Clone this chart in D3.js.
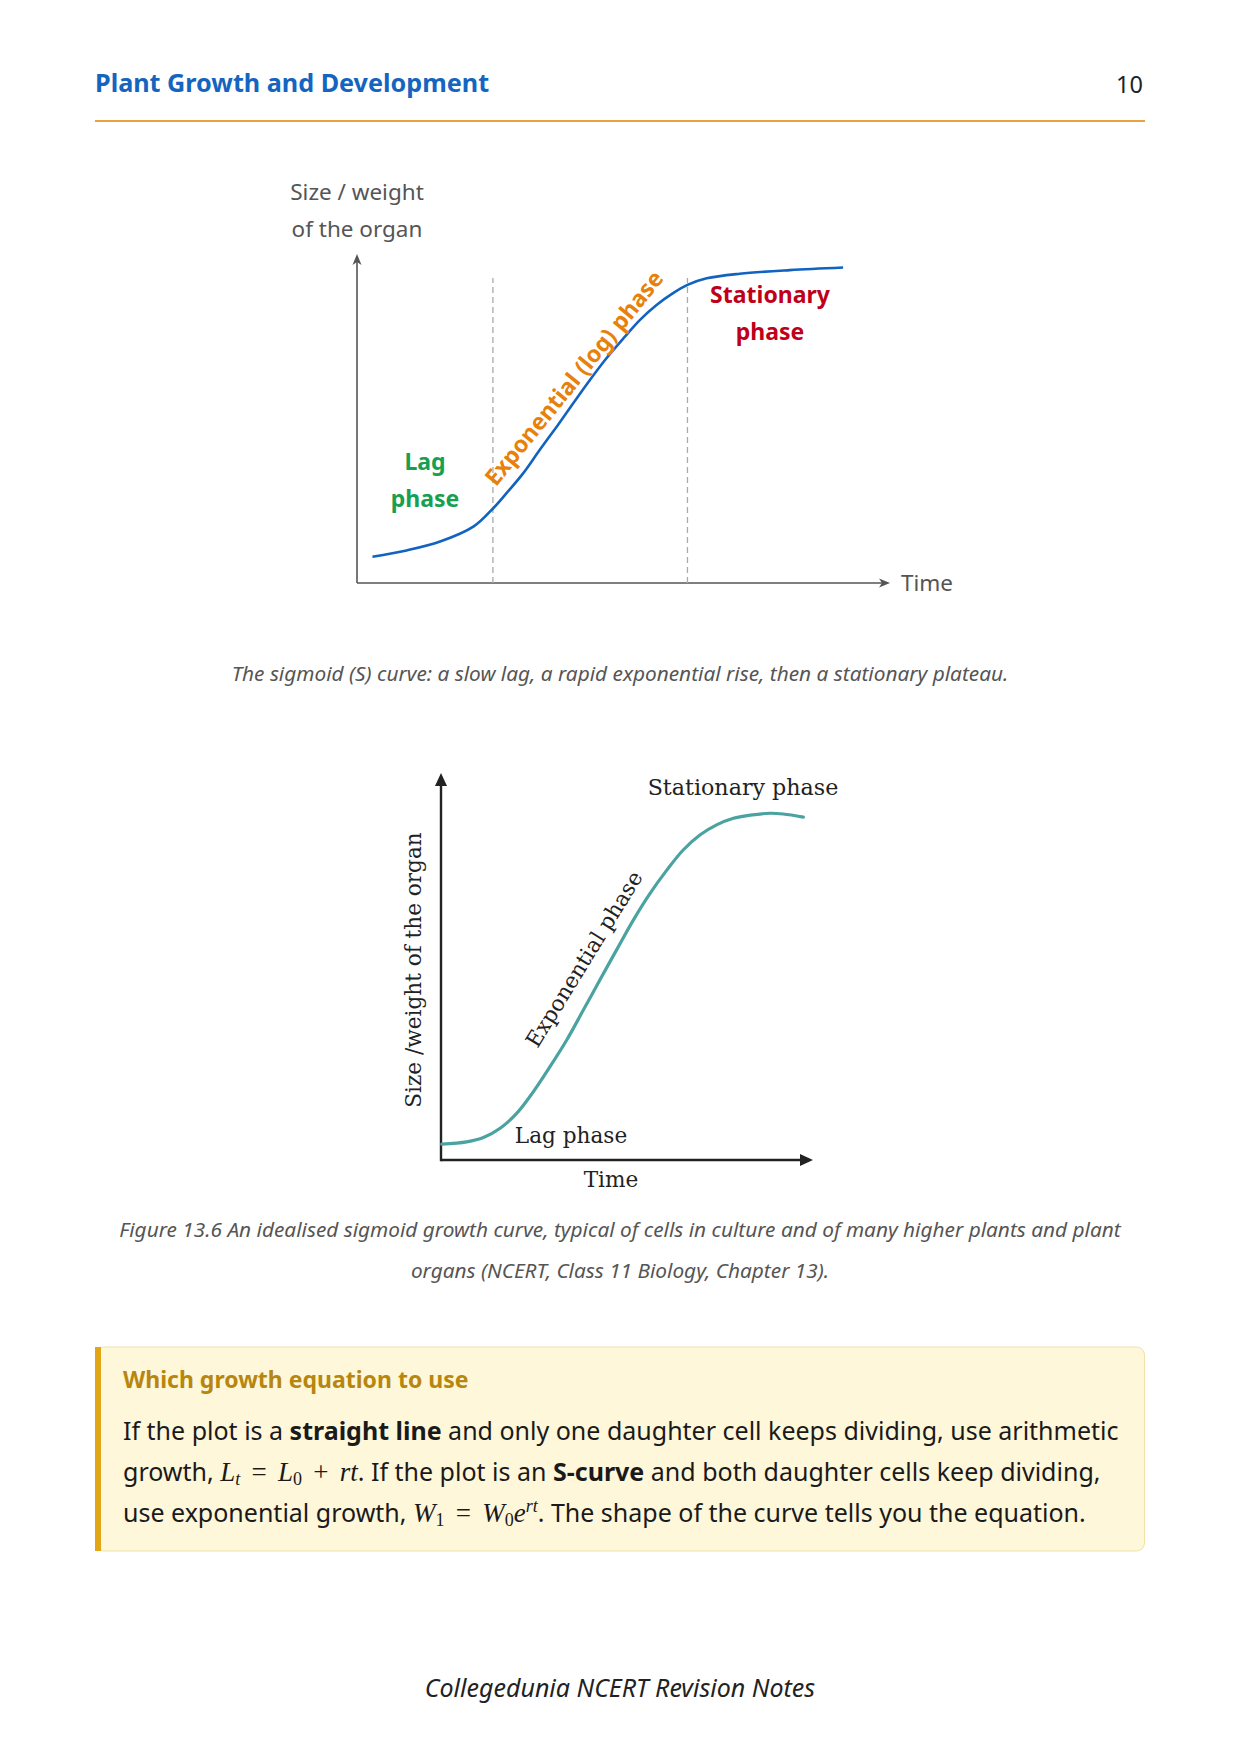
<!DOCTYPE html>
<html>
<head>
<meta charset="utf-8">
<script src="https://cdn.jsdelivr.net/npm/d3@7/dist/d3.min.js"></script>
<style>
  html, body { margin: 0; padding: 0; background: #fff; }
  svg { display: block; }
</style>
</head>
<body>
<svg id="page" width="1240" height="1754"></svg>
<script>
// ---------------- DATA ----------------
// Chart 1 (modern sigmoid): time (0-100) vs size (0-100)
const curve1Time = [2.9, 9.3, 15.6, 21.9, 25.6, 28.1, 31.2, 34.3, 37.5, 40.6, 43.7, 46.8, 50.0, 53.1, 56.2, 59.3, 62.0, 65.6, 71.8, 81.2, 91.2];
const curve1Size = [8.0, 9.9, 12.6, 17.2, 22.8, 27.4, 33.4, 40.5, 47.6, 54.7, 61.7, 68.3, 74.4, 80.0, 84.5, 88.1, 90.6, 92.6, 94.0, 95.1, 95.9];
const phaseBoundaries1 = [25.5, 62.0];
const phaseLabels1 = ["Lag", "phase", "Exponential (log) phase", "Stationary", "phase"];
const axisLabels1 = ["Size / weight", "of the organ", "Time"];

// Chart 2 (NCERT figure 13.6): time (0-100) vs size (0-100)
const curve2Time = [0.2, 6.9, 11.4, 15.9, 20.4, 24.8, 29.3, 33.8, 38.3, 42.7, 47.2, 51.7, 56.2, 60.7, 65.1, 69.6, 74.1, 78.6, 83.1, 88.4, 92.0, 97.4];
const curve2Size = [4.1, 4.7, 5.8, 8.2, 12.1, 17.6, 24.1, 31.0, 38.8, 46.5, 54.3, 62.0, 68.9, 74.9, 80.1, 84.0, 86.6, 88.3, 89.1, 89.6, 89.4, 88.6];
const phaseLabels2 = ["Lag phase", "Exponential phase", "Stationary phase"];
const axisLabels2 = ["Size /weight of the organ", "Time"];

// Page text
const headerTitle = "Plant Growth and Development";
const pageNumber = "10";
const caption1 = "The sigmoid (S) curve: a slow lag, a rapid exponential rise, then a stationary plateau.";
const caption2 = ["Figure 13.6 An idealised sigmoid growth curve, typical of cells in culture and of many higher plants and plant",
                  "organs (NCERT, Class 11 Biology, Chapter 13)."];
const boxTitle = "Which growth equation to use";
const footer = "Collegedunia NCERT Revision Notes";

// ---------------- DRAW ----------------
const svg = d3.select("#page");
const SANS = "'Noto Sans', 'Open Sans', sans-serif";
const SERIF = "'DejaVu Serif', serif";
const MATH = "'Liberation Serif', 'DejaVu Serif', serif";

// Header
svg.append("text").attr("x", 95).attr("y", 92)
  .attr("font-family", SANS).attr("font-weight", 700).attr("font-size", 25.2)
  .attr("fill", "#1565c0").text(headerTitle);
svg.append("text").attr("x", 1143).attr("y", 92.5).attr("text-anchor", "end")
  .attr("font-family", SANS).attr("font-size", 23.5).attr("fill", "#222").text(pageNumber);
svg.append("line").attr("x1", 95).attr("x2", 1145).attr("y1", 121).attr("y2", 121)
  .attr("stroke", "#e9a33c").attr("stroke-width", 2);

// ---------- Chart 1 ----------
const x1 = d3.scaleLinear().domain([0, 100]).range([357, 890]);
const y1 = d3.scaleLinear().domain([0, 100]).range([583, 254]);
const g1 = svg.append("g");
const axisCol1 = "#555";

g1.append("line").attr("x1", x1(0)).attr("x2", x1(100) - 4).attr("y1", y1(0)).attr("y2", y1(0))
  .attr("stroke", axisCol1).attr("stroke-width", 1.6);
g1.append("line").attr("x1", x1(0)).attr("x2", x1(0)).attr("y1", y1(0)).attr("y2", y1(100) + 4)
  .attr("stroke", axisCol1).attr("stroke-width", 1.6);
g1.append("path")
  .attr("d", `M${x1(100)},${y1(0)} L${x1(100) - 11},${y1(0) - 4.5} L${x1(100) - 8},${y1(0)} L${x1(100) - 11},${y1(0) + 4.5} Z`)
  .attr("fill", axisCol1);
g1.append("path")
  .attr("d", `M${x1(0)},${y1(100)} L${x1(0) - 4.5},${y1(100) + 11} L${x1(0)},${y1(100) + 8} L${x1(0) + 4.5},${y1(100) + 11} Z`)
  .attr("fill", axisCol1);

g1.selectAll("line.bound").data(phaseBoundaries1).join("line")
  .attr("class", "bound")
  .attr("x1", d => x1(d)).attr("x2", d => x1(d))
  .attr("y1", y1(0)).attr("y2", y1(92.7))
  .attr("stroke", "#aaa").attr("stroke-width", 1.3).attr("stroke-dasharray", "6,4");

const pts1 = curve1Time.map((t, i) => [t, curve1Size[i]]);
g1.append("path").datum(pts1)
  .attr("d", d3.line().x(d => x1(d[0])).y(d => y1(d[1])).curve(d3.curveCatmullRom))
  .attr("fill", "none").attr("stroke", "#1262c0").attr("stroke-width", 2.6);

const sans22 = sel => sel.attr("font-family", SANS).attr("font-size", 22.5).attr("fill", "#555");
g1.append("text").attr("x", x1(0)).attr("y", 200).attr("text-anchor", "middle").call(sans22).text(axisLabels1[0]);
g1.append("text").attr("x", x1(0)).attr("y", 237).attr("text-anchor", "middle").call(sans22).text(axisLabels1[1]);
g1.append("text").attr("x", x1(100) + 11).attr("y", 591).attr("text-anchor", "start").call(sans22).text(axisLabels1[2]);

const bold23 = sel => sel.attr("font-family", SANS).attr("font-weight", 700).attr("font-size", 23);
g1.append("text").attr("x", 425).attr("y", 470).attr("text-anchor", "middle").call(bold23)
  .attr("fill", "#17a050").text(phaseLabels1[0]);
g1.append("text").attr("x", 425).attr("y", 507).attr("text-anchor", "middle").call(bold23)
  .attr("fill", "#17a050").text(phaseLabels1[1]);
g1.append("text").attr("transform", "translate(574,378) rotate(-51)").attr("dy", "0.35em")
  .attr("text-anchor", "middle").call(bold23).attr("fill", "#e8800c").text(phaseLabels1[2]);
g1.append("text").attr("x", 770).attr("y", 303).attr("text-anchor", "middle").call(bold23)
  .attr("fill", "#c0001a").text(phaseLabels1[3]);
g1.append("text").attr("x", 770).attr("y", 340).attr("text-anchor", "middle").call(bold23)
  .attr("fill", "#c0001a").text(phaseLabels1[4]);

svg.append("text").attr("x", 620).attr("y", 681).attr("text-anchor", "middle")
  .attr("font-family", SANS).attr("font-style", "italic").attr("font-size", 20.8)
  .attr("fill", "#555").text(caption1);

// ---------- Chart 2 ----------
const x2 = d3.scaleLinear().domain([0, 100]).range([441, 813]);
const y2 = d3.scaleLinear().domain([0, 100]).range([1160, 773]);
const g2 = svg.append("g");
const axisCol2 = "#222";
g2.append("line").attr("x1", x2(0)).attr("x2", x2(100) - 8).attr("y1", y2(0)).attr("y2", y2(0))
  .attr("stroke", axisCol2).attr("stroke-width", 2.4);
g2.append("line").attr("x1", x2(0)).attr("x2", x2(0)).attr("y1", y2(0) + 1.2).attr("y2", y2(100) + 8)
  .attr("stroke", axisCol2).attr("stroke-width", 2.4);
g2.append("path")
  .attr("d", `M${x2(100)},${y2(0)} L${x2(100) - 13},${y2(0) - 6} L${x2(100) - 13},${y2(0) + 6} Z`)
  .attr("fill", axisCol2);
g2.append("path")
  .attr("d", `M${x2(0)},${y2(100)} L${x2(0) - 6},${y2(100) + 13} L${x2(0) + 6},${y2(100) + 13} Z`)
  .attr("fill", axisCol2);

const pts2 = curve2Time.map((t, i) => [t, curve2Size[i]]);
g2.append("path").datum(pts2)
  .attr("d", d3.line().x(d => x2(d[0])).y(d => y2(d[1])).curve(d3.curveCatmullRom))
  .attr("fill", "none").attr("stroke", "#4aa3a0").attr("stroke-width", 3.2).attr("stroke-linecap", "round");

const serif = sel => sel.attr("font-family", SERIF).attr("font-size", 21.6).attr("fill", "#222");
g2.append("text").attr("x", 743).attr("y", 795).attr("text-anchor", "middle").call(serif)
  .attr("font-size", 22.2).text(phaseLabels2[2]);
g2.append("text").attr("x", 571).attr("y", 1143).attr("text-anchor", "middle").call(serif).text(phaseLabels2[0]);
g2.append("text").attr("transform", "translate(584,959) rotate(-58.4)").attr("dy", "0.35em")
  .attr("text-anchor", "middle").call(serif).text(phaseLabels2[1]);
g2.append("text").attr("x", 611).attr("y", 1187).attr("text-anchor", "middle").call(serif).text(axisLabels2[1]);
g2.append("text").attr("transform", "translate(421,970) rotate(-90)")
  .attr("text-anchor", "middle").call(serif).text(axisLabels2[0]);

caption2.forEach((line, i) => {
  svg.append("text").attr("x", 620).attr("y", 1237 + i * 41).attr("text-anchor", "middle")
    .attr("font-family", SANS).attr("font-style", "italic").attr("font-size", 20.8)
    .attr("fill", "#555").text(line);
});

// ---------- Callout box ----------
svg.append("rect").attr("x", 95.5).attr("y", 1347).attr("width", 1049).attr("height", 204)
  .attr("rx", 8).attr("fill", "#fef7da").attr("stroke", "#f1e2a6").attr("stroke-width", 1);
svg.append("rect").attr("x", 95).attr("y", 1347).attr("width", 6).attr("height", 204)
  .attr("fill", "#e2a516");
svg.append("text").attr("x", 123).attr("y", 1388)
  .attr("font-family", SANS).attr("font-weight", 700).attr("font-size", 23)
  .attr("fill", "#b7860f").text(boxTitle);

const BODY = 25;
const OPSP = "\u2004\u200A";
const bodyLines = [
  [{t: "If the plot is a "}, {t: "straight line", b: 1}, {t: " and only one daughter cell keeps dividing, use arithmetic"}],
  [{t: "growth, "}, {t: "L", m: 1}, {t: "t", m: 1, sub: 1}, {t: OPSP + "=" + OPSP, mr: 1}, {t: "L", m: 1}, {t: "0", mr: 1, sub: 1}, {t: OPSP + "+" + OPSP, mr: 1}, {t: "rt", m: 1}, {t: ". If the plot is an "}, {t: "S-curve", b: 1}, {t: " and both daughter cells keep dividing,"}],
  [{t: "use exponential growth, "}, {t: "W", m: 1}, {t: "1", mr: 1, sub: 1}, {t: OPSP + "=" + OPSP, mr: 1}, {t: "W", m: 1}, {t: "0", mr: 1, sub: 1}, {t: "e", m: 1}, {t: "rt", m: 1, sup: 1}, {t: ". The shape of the curve tells you the equation."}]
];
bodyLines.forEach((segs, i) => {
  const tx = svg.append("text").attr("x", 123).attr("y", 1440 + i * 41)
    .attr("font-family", SANS).attr("font-size", BODY).attr("fill", "#1a1a1a")
    .attr("xml:space", "preserve");
  segs.forEach(s => {
    const sp = tx.append("tspan").text(s.t);
    if (s.b) sp.attr("font-weight", 700);
    if (s.m || s.mr) sp.attr("font-family", MATH).attr("font-size", BODY + 2);
    if (s.m) sp.attr("font-style", "italic");
    if (s.sub) sp.attr("font-size", 18).attr("baseline-shift", "-4");
    if (s.sup) sp.attr("font-size", 18).attr("baseline-shift", "10");
  });
});

svg.append("text").attr("x", 620).attr("y", 1697).attr("text-anchor", "middle")
  .attr("font-family", SANS).attr("font-style", "italic").attr("font-size", 25)
  .attr("fill", "#222").text(footer);
</script>
</body>
</html>
